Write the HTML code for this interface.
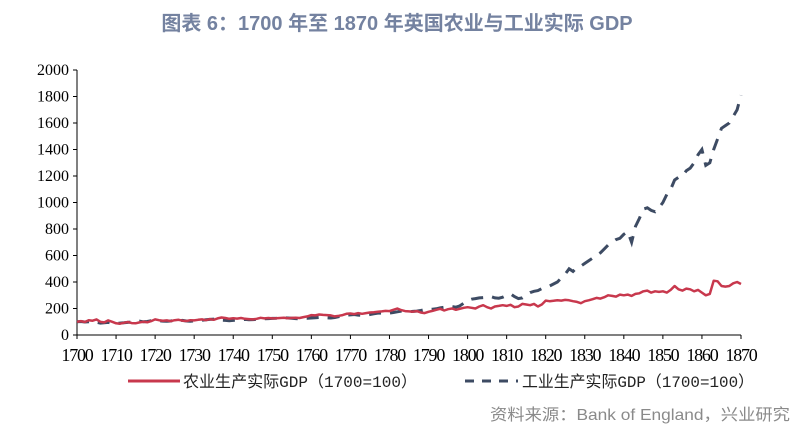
<!DOCTYPE html>
<html><head><meta charset="utf-8"><style>
body{margin:0;background:#fff;width:797px;height:434px;overflow:hidden}
svg{display:block}
</style></head><body>
<svg id="chart" width="797" height="434">
<text x="397" y="30" text-anchor="middle" font-family="'Liberation Sans','Noto Sans CJK SC',sans-serif" font-size="20" font-weight="bold" fill="#7482a0">图表 6：1700 年至 1870 年英国农业与工业实际 GDP</text>
<g id="axes"></g>
<g id="series"></g>
<g>
<line x1="128" y1="381" x2="180" y2="381" stroke="#c8384d" stroke-width="3"/>
<text x="183" y="387" textLength="234" lengthAdjust="spacingAndGlyphs" font-family="'Liberation Mono','Noto Sans CJK SC',monospace" font-size="16" fill="#222">农业生产实际GDP（1700=100）</text>
<line x1="465" y1="381" x2="518" y2="381" stroke="#3d4b63" stroke-width="3" stroke-dasharray="9,8"/>
<text x="522" y="387" textLength="232" lengthAdjust="spacingAndGlyphs" font-family="'Liberation Mono','Noto Sans CJK SC',monospace" font-size="16" fill="#222">工业生产实际GDP（1700=100）</text>
</g>
<text x="790" y="420" text-anchor="end" textLength="300" lengthAdjust="spacingAndGlyphs" font-family="'Liberation Sans','Noto Sans CJK SC',sans-serif" font-size="16" fill="#8a8a8a">资料来源：Bank of England，兴业研究</text>
</svg>
<script>
const startYear = 1700;
const xTicks = [1700,1710,1720,1730,1740,1750,1760,1770,1780,1790,1800,1810,1820,1830,1840,1850,1860,1870];
const yTicks = [0,200,400,600,800,1000,1200,1400,1600,1800,2000];
const agriculture = [
100,105,98,112,108,118,100,95,110,100,
88,85,92,98,90,88,95,100,96,105,
118,112,108,110,105,112,115,108,106,112,
110,115,118,112,120,115,125,132,128,122,
126,124,128,122,120,118,122,130,125,128,
125,126,128,130,127,129,130,128,135,140,
150,148,155,152,150,148,140,145,150,160,
162,158,165,160,165,170,172,175,178,182,
180,190,200,188,180,178,176,180,170,165,
175,182,190,198,185,195,200,190,198,205,
210,205,200,215,225,210,200,215,220,225,
220,228,210,215,235,230,225,235,215,230,
260,255,258,262,260,265,262,255,250,240,
255,262,270,280,275,285,300,295,290,305,
300,305,295,310,315,330,335,320,330,325,
330,320,340,370,345,335,350,345,330,340,
320,300,310,410,405,370,365,370,390,400,
385];
const industry = [
100,102,98,100,104,96,90,92,95,88,
86,90,92,95,98,100,104,100,102,108,
110,108,105,104,106,110,108,110,106,104,
106,108,112,115,118,120,115,112,110,108,
110,112,115,118,115,116,118,120,122,124,
125,126,128,130,128,126,124,122,125,126,
128,130,132,135,130,128,132,138,145,150,
152,155,150,148,150,155,160,165,165,168,
165,170,175,180,178,176,178,180,185,190,
192,195,198,205,210,212,215,210,220,240,
260,270,275,280,282,285,290,280,278,285,
300,310,290,275,280,300,320,330,335,350,
360,370,385,400,430,460,500,480,510,520,
540,560,580,600,620,650,680,700,720,730,
760,780,700,820,880,950,960,940,930,960,
1000,1060,1100,1170,1190,1200,1240,1260,1300,1360,
1400,1280,1300,1400,1480,1560,1580,1600,1650,1700,
1810];
const NS="http://www.w3.org/2000/svg";
const X0=77,X1=741,Y0=335,Y1=70;
function xs(yr){return X0+(yr-1700)/170*(X1-X0);}
function ys(v){return Y0-v/2000*(Y0-Y1);}
function mk(tag,attrs,parent){const e=document.createElementNS(NS,tag);for(const k in attrs)e.setAttribute(k,attrs[k]);parent.appendChild(e);return e;}
const axes=document.getElementById('axes');
const ya=mk('line',{x1:X0,y1:Y1,x2:X0,y2:Y0,stroke:'#000','stroke-width':1},axes);


const xa=mk('line',{x1:X0,y1:Y0,x2:X1,y2:Y0,stroke:'#000','stroke-width':1},axes);


yTicks.forEach(v=>{
  mk('line',{x1:X0-4,y1:ys(v),x2:X0,y2:ys(v),stroke:'#000'},axes);
  const t=mk('text',{x:X0-8,y:ys(v)+5,'text-anchor':'end','font-family':"'Liberation Serif',serif",'font-size':16,fill:'#000'},axes);
  t.textContent=v;
  
  
});
xTicks.forEach(yr=>{
  mk('line',{x1:xs(yr),y1:Y0,x2:xs(yr),y2:Y0+4,stroke:'#000'},axes);
  const t=mk('text',{x:xs(yr),y:Y0+26,'text-anchor':'middle','font-family':"'Liberation Serif',serif",'font-size':18,'letter-spacing':'-1.2',fill:'#000'},axes);
  t.textContent=yr;
  
  
});
const series=document.getElementById('series');
function path(arr){return arr.map((v,i)=>(i?'L':'M')+xs(startYear+i).toFixed(1)+','+ys(v).toFixed(1)).join('');}
const ind=mk('path',{d:path(industry),fill:'none',stroke:'#3d4b63','stroke-width':3,'stroke-dasharray':'12,9'},series);


const ag=mk('path',{d:path(agriculture),fill:'none',stroke:'#c8384d','stroke-width':2.5,'stroke-linejoin':'round'},series);


</script>
</body></html>
